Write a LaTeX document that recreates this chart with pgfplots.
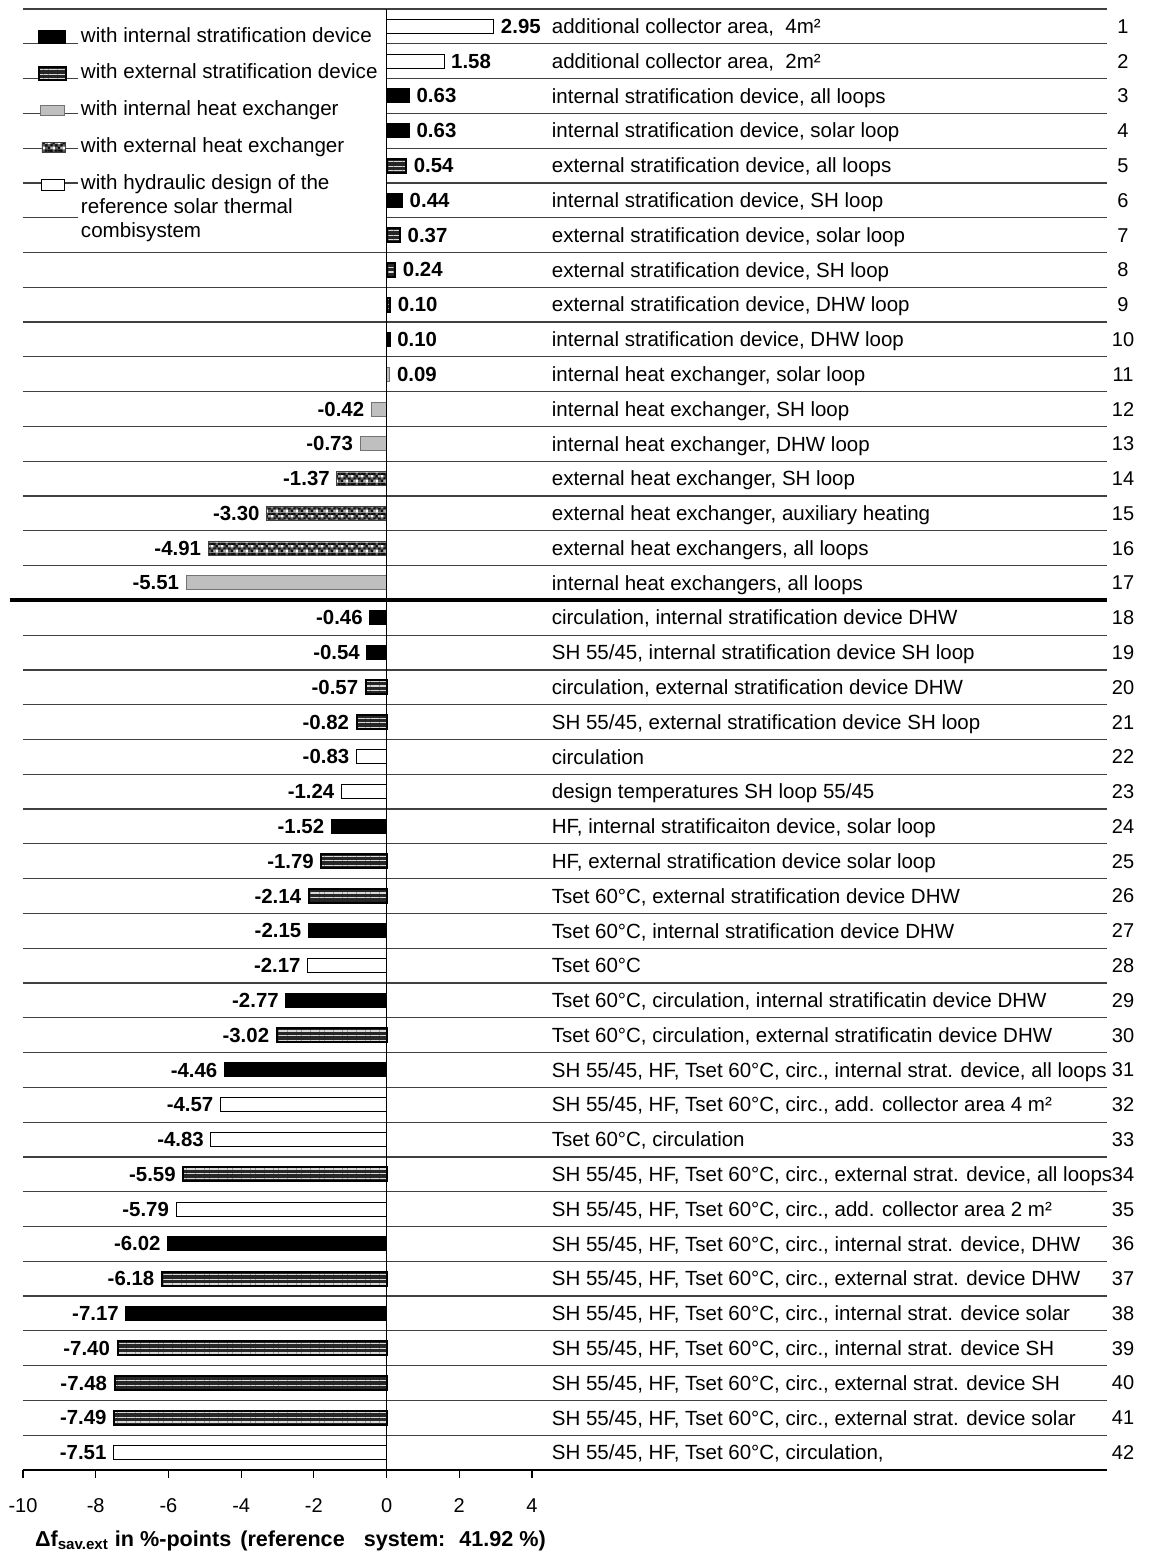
\documentclass[border=0pt]{standalone}
\usepackage{pgfplots}
\pgfplotsset{compat=1.18}
\usepackage{fontspec}
\setmainfont{Liberation Sans}
\usetikzlibrary{patterns,patterns.meta}
\pgfdeclarepatterninherentlycolored{mottle}{\pgfpointorigin}{\pgfqpoint{4.8pt}{4.8pt}}{\pgfqpoint{4.8pt}{4.8pt}}{%
  \pgfsetfillcolor{black!62}\pgfpathrectangle{\pgfpointorigin}{\pgfqpoint{4.8pt}{4.8pt}}\pgfusepath{fill}%
  \pgfsetfillcolor{black!95}%
  \pgfpathrectangle{\pgfqpoint{0pt}{0pt}}{\pgfqpoint{1.2pt}{1.2pt}}%
  \pgfpathrectangle{\pgfqpoint{1.2pt}{1.2pt}}{\pgfqpoint{1.2pt}{1.2pt}}%
  \pgfpathrectangle{\pgfqpoint{3.6pt}{1.2pt}}{\pgfqpoint{1.2pt}{1.2pt}}%
  \pgfpathrectangle{\pgfqpoint{2.4pt}{2.4pt}}{\pgfqpoint{1.2pt}{1.2pt}}%
  \pgfpathrectangle{\pgfqpoint{1.2pt}{3.6pt}}{\pgfqpoint{1.2pt}{1.2pt}}%
  \pgfpathrectangle{\pgfqpoint{3.6pt}{3.6pt}}{\pgfqpoint{1.2pt}{1.2pt}}%
  \pgfpathrectangle{\pgfqpoint{0pt}{3.6pt}}{\pgfqpoint{1.2pt}{1.2pt}}%
  \pgfusepath{fill}%
  \pgfsetfillcolor{white}%
  \pgfpathrectangle{\pgfqpoint{2.4pt}{0pt}}{\pgfqpoint{1.2pt}{1.2pt}}%
  \pgfpathrectangle{\pgfqpoint{0pt}{2.4pt}}{\pgfqpoint{1.2pt}{1.2pt}}%
  \pgfusepath{fill}%
  \pgfsetfillcolor{black!30}%
  \pgfpathrectangle{\pgfqpoint{1.2pt}{0pt}}{\pgfqpoint{1.2pt}{1.2pt}}%
  \pgfpathrectangle{\pgfqpoint{3.6pt}{2.4pt}}{\pgfqpoint{1.2pt}{1.2pt}}%
  \pgfusepath{fill}%
}
\newcommand{\rl}[2]{\node[anchor=base west, inner sep=0pt, yshift=-3.6pt, font=\fontsize{10.25}{12}\selectfont] at (axis cs:4.535,#1) {#2};}
\tikzset{
  sepline/.style={black!75, line width=0.6pt},
  IS/.style={fill=black, draw=black, line width=0.5pt},
  ES/.style={fill=black!85, draw=black, line width=1pt, postaction={pattern={Lines[angle=0,distance=2.3pt,line width=0.55pt]}, pattern color=black!15}},
  IHX/.style={fill=black!25, draw=black!55, line width=0.5pt},
  EHX/.style={draw=black!75, line width=0.4pt, pattern=mottle},
  RW/.style={fill=white, draw=black, line width=0.5pt},
}
\begin{document}
\fontsize{10}{12}\selectfont
\begin{tikzpicture}
\useasboundingbox (-11.5pt,-45pt) rectangle (563pt,735pt);
\begin{axis}[
  at={(0,0)}, anchor=south west,
  scale only axis, width=542pt, height=730.5pt,
  xmin=-10, xmax=19.815, ymin=0.5, ymax=42.5, y dir=reverse,
  axis x line*=bottom, axis y line*=right,
  y axis line style={draw=none},
  x axis line style={black, line width=0.7pt, -},
  xtick={-10,-8,...,4}, tick align=outside, major tick length=4pt,
  xtick style={black, line width=0.6pt},
  ytick={1,...,42}, ytick style={draw=none},
  /pgf/number format/assume math mode=true,
  tick label style={font=\fontsize{10}{12}\selectfont},
  xticklabel style={yshift=-6.6pt},
  yticklabel style={anchor=center, xshift=4pt},
  clip=false,
  xbar, bar width=7pt, bar shift=0pt,
  point meta=x,
  nodes near coords={\pgfmathprintnumber[fixed,zerofill,precision=2]{\pgfplotspointmeta}},
  nodes near coords style={font=\bfseries\fontsize{10.2}{12}\selectfont},
  xlabel={\bfseries Δf\textsubscript{sav.ext} in \%-points \hspace{1.5pt}(reference\hspace{6.5pt} system:\hspace{3pt} 41.92 \%)},
  xlabel style={at={(rel axis cs:0,0)}, anchor=west, yshift=-35.5pt, xshift=2.5pt, font=\fontsize{10.8}{13}\selectfont},
  legend style={at={(axis cs:-9.588,0.966)}, anchor=north west, draw=none, fill=none,
    inner sep=0pt, outer sep=0pt, row sep=8.5pt, /tikz/column sep=7pt,
    font=\fontsize{10.3}{12}\selectfont, cells={anchor=base west}, nodes={inner sep=0pt}},
]
% internal stratification device
\addplot[IS, forget plot] coordinates {(0.63,3) (0.63,4) (0.44,6) (0.10,10) (-0.46,18) (-0.54,19) (-1.52,24) (-2.15,27) (-2.77,29) (-4.46,31) (-6.02,36) (-7.17,38)};
% external stratification device
\addplot[ES, forget plot] coordinates {(0.54,5) (0.37,7) (0.24,8) (0.10,9) (-0.57,20) (-0.82,21) (-1.79,25) (-2.14,26) (-3.02,30) (-5.59,34) (-6.18,37) (-7.40,39) (-7.48,40) (-7.49,41)};
% internal heat exchanger
\addplot[IHX, forget plot] coordinates {(0.09,11) (-0.42,12) (-0.73,13) (-5.51,17)};
% external heat exchanger
\addplot[EHX, forget plot] coordinates {(-1.37,14) (-3.30,15) (-4.91,16)};
% hydraulic design of the reference system
\addplot[RW, forget plot] coordinates {(2.95,1) (1.58,2) (-0.83,22) (-1.24,23) (-2.17,28) (-4.57,32) (-4.83,33) (-5.79,35) (-7.51,42)};

\addlegendimage{legend image code/.code={\draw[IS] (0pt,-0.5pt) rectangle (13.5pt,6pt);}}
\addlegendentry{\strut with internal stratification device}
\addlegendimage{legend image code/.code={\draw[ES] (0pt,-0.5pt) rectangle (13.5pt,6pt);}}
\addlegendentry{\strut with external stratification device}
\addlegendimage{legend image code/.code={\draw[IHX] (1pt,0pt) rectangle (13pt,5pt);}}
\addlegendentry{\strut with internal heat exchanger}
\addlegendimage{legend image code/.code={\draw[EHX] (1.5pt,0pt) rectangle (13pt,5pt);}}
\addlegendentry{\strut with external heat exchanger}
\addlegendimage{legend image code/.code={\draw[RW] (1.5pt,-0.5pt) rectangle (13pt,5pt);}}
\addlegendentry{\begin{tabular}[t]{@{}l@{}}with hydraulic design of the\\reference solar thermal\\combisystem\end{tabular}}

% row separators
\draw[sepline] (axis cs:-10,0.5) -- (axis cs:19.815,0.5);
\pgfplotsinvokeforeach{1,...,6}{
  \draw[sepline] (axis cs:-10,#1.5) -- (axis cs:-8.5,#1.5);
  \draw[sepline] (axis cs:0,#1.5) -- (axis cs:19.815,#1.5);
}
\pgfplotsinvokeforeach{7,...,16}{\draw[sepline] (axis cs:-10,#1.5) -- (axis cs:19.815,#1.5);}
\pgfplotsinvokeforeach{18,...,41}{\draw[sepline] (axis cs:-10,#1.5) -- (axis cs:19.815,#1.5);}
\draw[black, line width=2pt] (axis cs:-10.37,17.5) -- (axis cs:19.815,17.5);
\draw[black, line width=0.6pt] (axis cs:0,0.5) -- (axis cs:0,42.5);

\rl{1}{additional collector area,\ \ 4m²}
\rl{2}{additional collector area,\ \ 2m²}
\rl{3}{internal stratification device, all loops}
\rl{4}{internal stratification device, solar loop}
\rl{5}{external stratification device, all loops}
\rl{6}{internal stratification device, SH loop}
\rl{7}{external stratification device, solar loop}
\rl{8}{external stratification device, SH loop}
\rl{9}{external stratification device, DHW loop}
\rl{10}{internal stratification device, DHW loop}
\rl{11}{internal heat exchanger, solar loop}
\rl{12}{internal heat exchanger, SH loop}
\rl{13}{internal heat exchanger, DHW loop}
\rl{14}{external heat exchanger, SH loop}
\rl{15}{external heat exchanger, auxiliary heating}
\rl{16}{external heat exchangers, all loops}
\rl{17}{internal heat exchangers, all loops}
\rl{18}{circulation, internal stratification device DHW}
\rl{19}{SH 55/45, internal stratification device SH loop}
\rl{20}{circulation, external stratification device DHW}
\rl{21}{SH 55/45, external stratification device SH loop}
\rl{22}{circulation}
\rl{23}{design temperatures SH loop 55/45}
\rl{24}{HF, internal stratificaiton device, solar loop}
\rl{25}{HF, external stratification device solar loop}
\rl{26}{Tset 60°C, external stratification device DHW}
\rl{27}{Tset 60°C, internal stratification device DHW}
\rl{28}{Tset 60°C}
\rl{29}{Tset 60°C, circulation, internal stratificatin device DHW}
\rl{30}{Tset 60°C, circulation, external stratificatin device DHW}
\rl{31}{SH 55/45, HF, Tset 60°C, circ., internal strat. device, all loops}
\rl{32}{SH 55/45, HF, Tset 60°C, circ., add. collector area 4 m²}
\rl{33}{Tset 60°C, circulation}
\rl{34}{SH 55/45, HF, Tset 60°C, circ., external strat. device, all loops}
\rl{35}{SH 55/45, HF, Tset 60°C, circ., add. collector area 2 m²}
\rl{36}{SH 55/45, HF, Tset 60°C, circ., internal strat. device, DHW}
\rl{37}{SH 55/45, HF, Tset 60°C, circ., external strat. device DHW}
\rl{38}{SH 55/45, HF, Tset 60°C, circ., internal strat. device solar}
\rl{39}{SH 55/45, HF, Tset 60°C, circ., internal strat. device SH}
\rl{40}{SH 55/45, HF, Tset 60°C, circ., external strat. device SH}
\rl{41}{SH 55/45, HF, Tset 60°C, circ., external strat. device solar}
\rl{42}{SH 55/45, HF, Tset 60°C, circulation,}
\end{axis}
\end{tikzpicture}
\end{document}
